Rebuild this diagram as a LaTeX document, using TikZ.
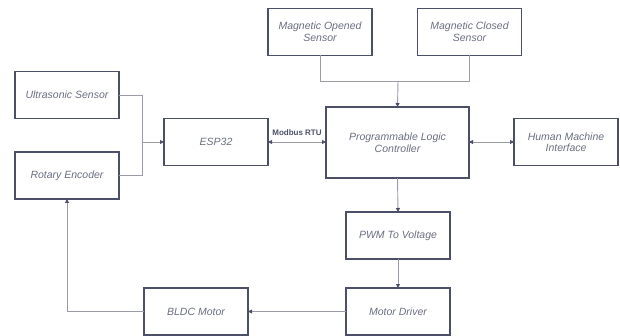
\documentclass[tikz,border=0pt]{standalone}
\usepackage{fontspec}
\setmainfont{Liberation Sans}
\usepackage{xcolor}
\usetikzlibrary{arrows.meta}

\definecolor{boxline}{HTML}{4B5068}
\definecolor{wire}{HTML}{9A9CAA}
\definecolor{labeltext}{HTML}{6A6E80}

\begin{document}
\begin{tikzpicture}[x=1pt,y=-1pt,
    block/.style={draw=boxline,line width=1.2pt,inner sep=0pt,outer sep=0pt,
      minimum width=104pt,minimum height=47pt,align=center,
      font=\fontsize{10.5}{11.5}\selectfont\itshape,text=labeltext},
    wire/.style={draw=wire,line width=0.9pt},
    flow/.style={wire,-{Triangle[length=4pt,width=4pt,color=boxline]}},
    bothways/.style={wire,{Triangle[length=4pt,width=4pt,color=boxline]}-{Triangle[length=4pt,width=4pt,color=boxline]}}]
  \useasboundingbox (0,0) rectangle (620,336);
  % sensor blocks
  \node[block] (ultra) at (67,95) {Ultrasonic Sensor};
  \node[block] (rotary) at (67,175.5) {Rotary Encoder};
  \node[block] (esp) at (216,142) {ESP32};
  \node[block] (magopen) at (320,32) {Magnetic Opened\\Sensor};
  \node[block] (magclose) at (469.5,32) {Magnetic Closed\\Sensor};
  % controller and outputs
  \node[block,minimum width=143pt,minimum height=71pt] (plc) at (397.5,142.5) {Programmable Logic\\Controller};
  \node[block] (hmi) at (566,142) {Human Machine\\Interface};
  \node[block] (pwm) at (398,235.5) {PWM To Voltage};
  \node[block] (driver) at (398,311.5) {Motor Driver};
  \node[block] (bldc) at (196,311.5) {BLDC Motor};
  \coordinate (join) at (142,142);
  \coordinate (merge) at (398,81);
  % connectors
  \draw[wire] (ultra.east) -| (join);
  \draw[wire] (rotary.east) -| (join);
  \draw[flow] (join) -- (esp.west);
  \draw[wire] (magopen.south) |- (merge);
  \draw[wire] (magclose.south) |- (merge);
  \draw[flow] (merge) -- (plc.north);
  \draw[bothways] (esp.east) -- node[above=3pt,font=\fontsize{8}{9}\selectfont\bfseries,text=boxline] {Modbus RTU} (esp.east -| plc.west);
  \draw[bothways] (plc.east |- hmi.west) -- (hmi.west);
  \draw[flow] (plc.south) -- (pwm.north);
  \draw[flow] (pwm.south) -- (driver.north);
  \draw[flow] (driver.west) -- (bldc.east);
  \draw[flow] (bldc.west) -| (rotary.south);
\end{tikzpicture}
\end{document}
